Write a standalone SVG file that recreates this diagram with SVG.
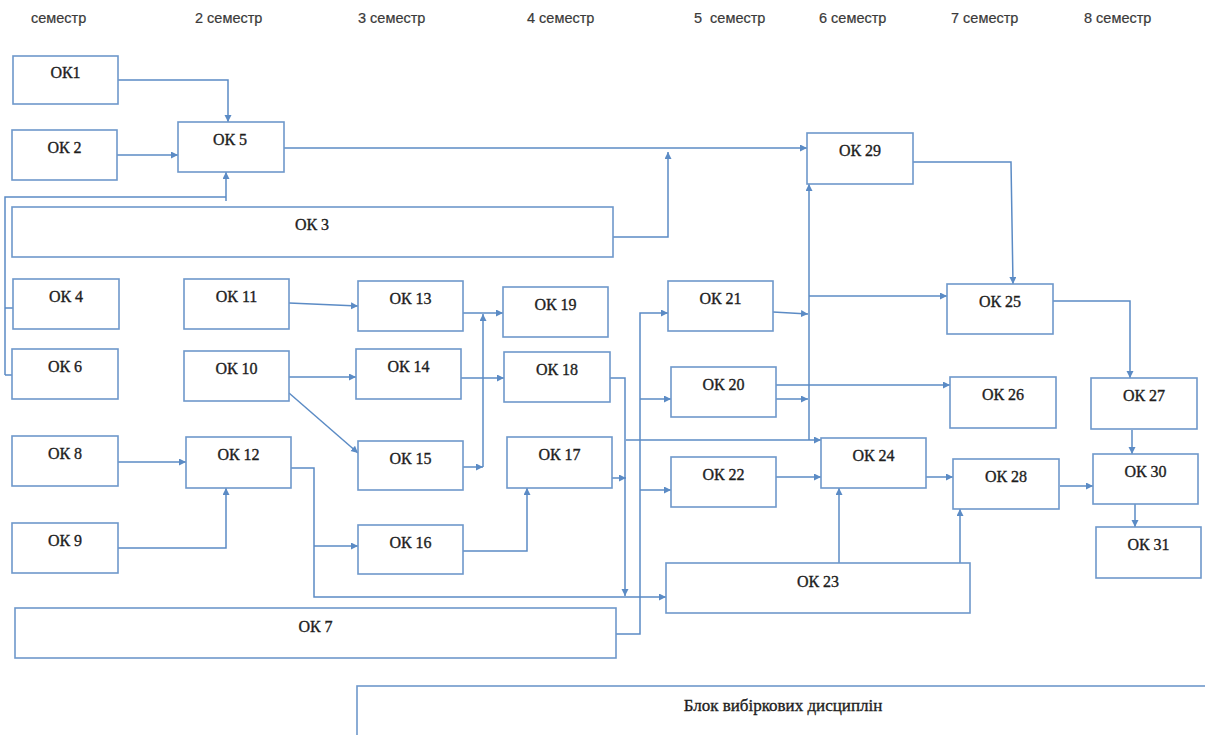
<svg xmlns="http://www.w3.org/2000/svg" width="1205" height="735" viewBox="0 0 1205 735">
<style>
.bg{fill:#ffffff}
.box{fill:#ffffff;stroke:#6e98cb;stroke-width:1.6}
.lbl{font-family:"Liberation Serif","Times New Roman",serif;font-size:16px;fill:#1e1e1e;stroke:#1e1e1e;stroke-width:0.35;text-anchor:middle}
.hdr{font-family:"Liberation Sans",Arial,sans-serif;font-size:14.5px;fill:#3a3a3a;stroke:#3a3a3a;stroke-width:0.2;white-space:pre}
.c{fill:none;stroke:#5b8bc5;stroke-width:1.5}
.a{marker-end:url(#ah)}
</style>
<defs>
<marker id="ah" markerUnits="userSpaceOnUse" markerWidth="8" markerHeight="8" refX="7" refY="3.5" orient="auto">
<path d="M0,0 L7,3.5 L0,7 z" fill="#5b8bc5"/>
</marker>
</defs>
<rect class="bg" x="0" y="0" width="1205" height="735"/>

<g id="headers">
<text class="hdr" x="31" y="23">семестр</text>
<text class="hdr" x="195" y="23">2 семестр</text>
<text class="hdr" x="358" y="23">3 семестр</text>
<text class="hdr" x="527" y="23">4 семестр</text>
<text class="hdr" x="694" y="23" xml:space="preserve">5  семестр</text>
<text class="hdr" x="819" y="23">6 семестр</text>
<text class="hdr" x="951" y="23">7 семестр</text>
<text class="hdr" x="1084" y="23">8 семестр</text>
</g>

<g id="connectors">
<path class="c a" d="M118,80 H228 V122"/>
<path class="c a" d="M117,155 H178"/>
<path class="c" d="M5,375 V197 H226"/>
<path class="c" d="M5,308 H13 M5,375 H12"/>
<path class="c a" d="M226,201 V172"/>
<path class="c a" d="M284,148 H807"/>
<path class="c a" d="M613,237 H668 V152"/>
<path class="c a" d="M913,162 H1011 L1013,284"/>
<path class="c a" d="M809,440 V184"/>
<path class="c a" d="M809,296 H947"/>
<path class="c a" d="M773,312 L808,314"/>
<path class="c a" d="M776,385 H950"/>
<path class="c a" d="M776,399 H808"/>
<path class="c a" d="M616,634 H640 V313 H668"/>
<path class="c a" d="M640,399 H671"/>
<path class="c a" d="M640,490 H671"/>
<path class="c a" d="M610,378 H625 V596"/>
<path class="c a" d="M612,478 H626"/>
<path class="c a" d="M626,440 H821"/>
<path class="c a" d="M291,468 H314 V597 H666"/>
<path class="c a" d="M314,546 H358"/>
<path class="c a" d="M463,551 H527 V488"/>
<path class="c a" d="M118,548 H226 V488"/>
<path class="c a" d="M118,462 H186"/>
<path class="c a" d="M289,303 L358,306"/>
<path class="c a" d="M289,377 H356"/>
<path class="c a" d="M289,393 L358,453"/>
<path class="c a" d="M463,313 H503"/>
<path class="c a" d="M463,467 H483"/>
<path class="c a" d="M483,467 V314"/>
<path class="c a" d="M461,378 H504"/>
<path class="c a" d="M776,477 H821"/>
<path class="c a" d="M839,563 V488"/>
<path class="c a" d="M960,563 V509"/>
<path class="c a" d="M926,477 H953"/>
<path class="c a" d="M1060,486 H1093"/>
<path class="c a" d="M1053,301 H1130 V378"/>
<path class="c a" d="M1132,430 V454"/>
<path class="c a" d="M1135,504 V527"/>
</g>

<g id="ok1"><rect class="box" x="13" y="56" width="105" height="48"/><text class="lbl" x="65.5" y="78">ОК1</text></g>
<g id="ok2"><rect class="box" x="12" y="130" width="105" height="50"/><text class="lbl" x="64.5" y="153">ОК 2</text></g>
<g id="ok5"><rect class="box" x="178" y="122" width="106" height="50"/><text class="lbl" x="230" y="145">ОК 5</text></g>
<g id="ok3"><rect class="box" x="12" y="207" width="601" height="50"/><text class="lbl" x="312" y="230">ОК 3</text></g>
<g id="ok4"><rect class="box" x="13" y="279" width="106" height="50"/><text class="lbl" x="66" y="302">ОК 4</text></g>
<g id="ok6"><rect class="box" x="12" y="349" width="106" height="50"/><text class="lbl" x="65" y="372">ОК 6</text></g>
<g id="ok11"><rect class="box" x="184" y="279" width="105" height="50"/><text class="lbl" x="236.5" y="302">ОК 11</text></g>
<g id="ok10"><rect class="box" x="184" y="351" width="105" height="50"/><text class="lbl" x="236.5" y="374">ОК 10</text></g>
<g id="ok13"><rect class="box" x="358" y="281" width="105" height="50"/><text class="lbl" x="410.5" y="304">ОК 13</text></g>
<g id="ok14"><rect class="box" x="356" y="349" width="105" height="50"/><text class="lbl" x="408.5" y="372">ОК 14</text></g>
<g id="ok15"><rect class="box" x="358" y="441" width="105" height="49"/><text class="lbl" x="410.5" y="464">ОК 15</text></g>
<g id="ok16"><rect class="box" x="358" y="525" width="105" height="49"/><text class="lbl" x="410.5" y="548">ОК 16</text></g>
<g id="ok8"><rect class="box" x="12" y="436" width="106" height="50"/><text class="lbl" x="65" y="459">ОК 8</text></g>
<g id="ok12"><rect class="box" x="186" y="437" width="105" height="51"/><text class="lbl" x="238.5" y="460">ОК 12</text></g>
<g id="ok9"><rect class="box" x="12" y="523" width="106" height="50"/><text class="lbl" x="65" y="546">ОК 9</text></g>
<g id="ok19"><rect class="box" x="503" y="287" width="105" height="50"/><text class="lbl" x="555.5" y="310">ОК 19</text></g>
<g id="ok18"><rect class="box" x="504" y="352" width="106" height="50"/><text class="lbl" x="557" y="375">ОК 18</text></g>
<g id="ok17"><rect class="box" x="507" y="437" width="105" height="51"/><text class="lbl" x="559.5" y="460">ОК 17</text></g>
<g id="ok7"><rect class="box" x="15" y="608" width="601" height="50"/><text class="lbl" x="315.5" y="632">ОК 7</text></g>
<g id="ok21"><rect class="box" x="668" y="281" width="105" height="50"/><text class="lbl" x="720.5" y="304">ОК 21</text></g>
<g id="ok20"><rect class="box" x="671" y="367" width="105" height="50"/><text class="lbl" x="723.5" y="390">ОК 20</text></g>
<g id="ok22"><rect class="box" x="671" y="457" width="105" height="50"/><text class="lbl" x="723.5" y="480">ОК 22</text></g>
<g id="ok23"><rect class="box" x="666" y="563" width="304" height="50"/><text class="lbl" x="818" y="587">ОК 23</text></g>
<g id="ok24"><rect class="box" x="821" y="438" width="105" height="50"/><text class="lbl" x="873.5" y="461">ОК 24</text></g>
<g id="ok29"><rect class="box" x="807" y="133" width="106" height="51"/><text class="lbl" x="860" y="156">ОК 29</text></g>
<g id="ok25"><rect class="box" x="947" y="284" width="106" height="50"/><text class="lbl" x="1000" y="307">ОК 25</text></g>
<g id="ok26"><rect class="box" x="950" y="377" width="106" height="51"/><text class="lbl" x="1003" y="400">ОК 26</text></g>
<g id="ok28"><rect class="box" x="953" y="459" width="106" height="50"/><text class="lbl" x="1006" y="482">ОК 28</text></g>
<g id="ok27"><rect class="box" x="1091" y="378" width="106" height="51"/><text class="lbl" x="1144" y="401">ОК 27</text></g>
<g id="ok30"><rect class="box" x="1093" y="454" width="105" height="50"/><text class="lbl" x="1145.5" y="477">ОК 30</text></g>
<g id="ok31"><rect class="box" x="1096" y="527" width="105" height="51"/><text class="lbl" x="1148.5" y="550">ОК 31</text></g>
<g id="elective"><rect class="box" x="357" y="686" width="852" height="60"/><text class="lbl" x="783" y="711" style="font-size:17px">Блок вибіркових дисциплін</text></g>
</svg>
